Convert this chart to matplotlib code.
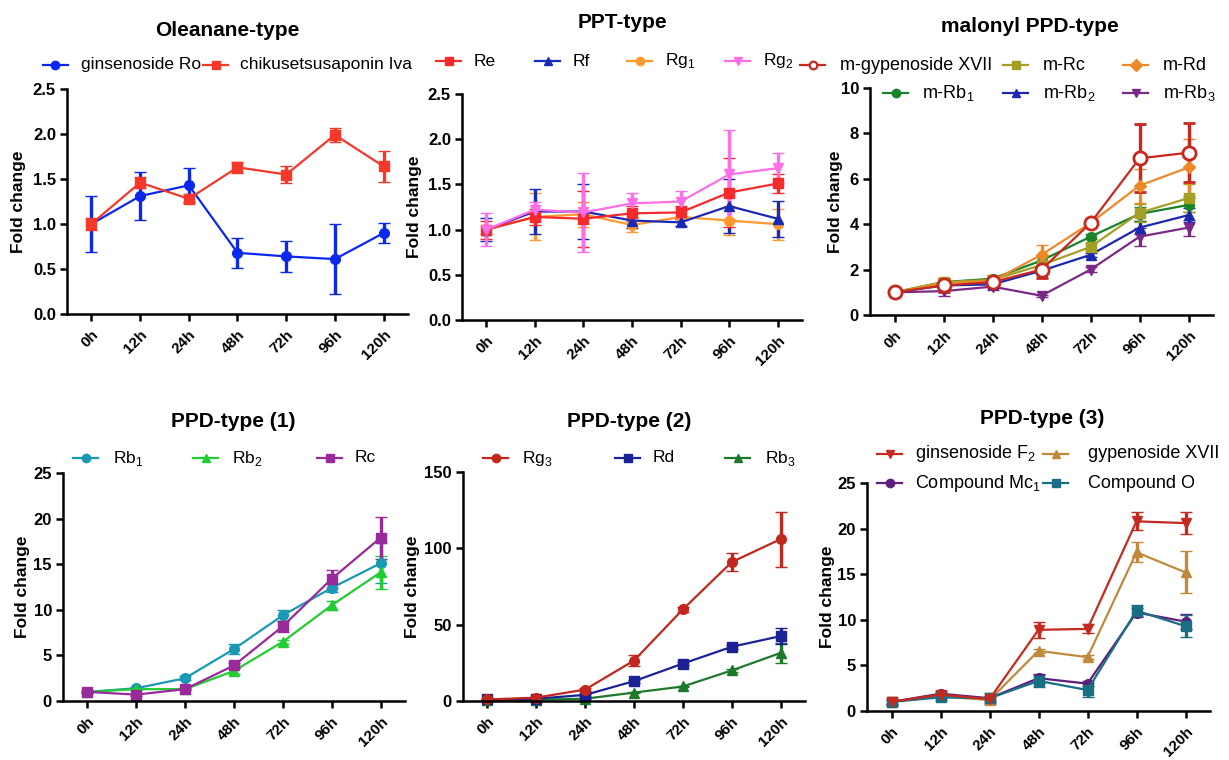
import matplotlib
matplotlib.use("Agg")
import matplotlib.pyplot as plt
from matplotlib.lines import Line2D

# -----------------------------------------------------
# DATA (fold change, mean and SD)
# -----------------------------------------------------
hours = ["0h", "12h", "24h", "48h", "72h", "96h", "120h"]

# Oleanane-type
ro = [1.0, 1.31, 1.43, 0.68, 0.64, 0.61, 0.90]
ro_sd = [0.31, 0.27, 0.19, 0.17, 0.17, 0.39, 0.11]
iva = [1.0, 1.46, 1.28, 1.63, 1.55, 1.99, 1.64]
iva_sd = [0.07, 0.06, 0.05, 0.06, 0.09, 0.08, 0.17]

# PPT-type
re = [1.0, 1.14, 1.12, 1.18, 1.19, 1.41, 1.51]
re_sd = [0.10, 0.09, 0.31, 0.08, 0.07, 0.38, 0.11]
rf = [1.0, 1.20, 1.20, 1.10, 1.08, 1.26, 1.12]
rf_sd = [0.13, 0.25, 0.30, 0.08, 0.04, 0.30, 0.20]
rg1 = [1.0, 1.14, 1.17, 1.05, 1.14, 1.10, 1.06]
rg1_sd = [0.05, 0.26, 0.14, 0.08, 0.10, 0.16, 0.17]
rg2 = [1.0, 1.22, 1.19, 1.29, 1.31, 1.61, 1.68]
rg2_sd = [0.18, 0.09, 0.44, 0.11, 0.12, 0.49, 0.17]

# malonyl PPD-type
m_gyp = [1.0, 1.3, 1.45, 2.0, 4.05, 6.9, 7.15]
m_gyp_sd = [0.05, 0.3, 0.2, 0.35, 0.1, 1.5, 1.3]
m_rc = [1.0, 1.45, 1.55, 2.2, 3.0, 4.5, 5.15]
m_rc_sd = [0.05, 0.2, 0.15, 0.2, 0.15, 0.4, 0.6]
m_rd = [1.0, 1.4, 1.5, 2.65, 4.05, 5.7, 6.5]
m_rd_sd = [0.05, 0.15, 0.15, 0.45, 0.1, 0.75, 1.25]
m_rb1 = [1.0, 1.45, 1.6, 2.4, 3.45, 4.45, 4.85]
m_rb1_sd = [0.05, 0.15, 0.15, 0.2, 0.1, 0.3, 0.3]
m_rb2 = [1.0, 1.3, 1.35, 1.95, 2.65, 3.85, 4.4]
m_rb2_sd = [0.05, 0.1, 0.1, 0.15, 0.1, 0.3, 0.3]
m_rb3 = [1.0, 1.05, 1.25, 0.85, 2.0, 3.45, 3.85]
m_rb3_sd = [0.05, 0.2, 0.15, 0.05, 0.1, 0.4, 0.35]

# PPD-type (1)
rb1 = [1.0, 1.4, 2.5, 5.7, 9.4, 12.4, 15.1]
rb1_sd = [0.1, 0.1, 0.2, 0.6, 0.6, 0.4, 2.2]
rb2 = [1.0, 1.3, 1.3, 3.3, 6.5, 10.5, 14.1]
rb2_sd = [0.1, 0.1, 0.1, 0.3, 0.2, 0.5, 1.8]
rc = [1.0, 0.7, 1.3, 3.9, 8.2, 13.4, 17.9]
rc_sd = [0.1, 0.1, 0.1, 0.3, 0.6, 1.0, 2.3]

# PPD-type (2)
rg3 = [1.0, 2.2, 7.5, 26.5, 60, 91, 106]
rg3_sd = [0.2, 0.5, 1.0, 3.5, 1.5, 6.0, 18.0]
rd = [1.0, 1.5, 4.0, 13, 24.5, 35.5, 42.5]
rd_sd = [0.2, 0.3, 0.5, 1.0, 1.0, 1.5, 5.0]
rb3 = [0.5, 0.8, 1.5, 5.5, 9.5, 20, 31.5]
rb3_sd = [0.1, 0.1, 0.3, 0.5, 0.5, 1.0, 6.5]

# PPD-type (3)
f2 = [1.0, 1.8, 1.3, 8.9, 9.0, 20.8, 20.6]
f2_sd = [0.3, 0.3, 0.3, 0.9, 0.5, 1.0, 1.2]
gyp = [1.0, 1.6, 1.2, 6.6, 5.9, 17.4, 15.2]
gyp_sd = [0.5, 0.2, 0.2, 0.2, 0.2, 1.1, 2.3]
mc1 = [1.0, 1.9, 1.4, 3.6, 3.0, 10.8, 9.8]
mc1_sd = [0.2, 0.3, 0.2, 0.5, 0.3, 0.5, 0.8]
cpd_o = [1.0, 1.5, 1.4, 3.3, 2.3, 11.0, 9.3]
cpd_o_sd = [0.2, 0.3, 0.6, 0.7, 0.8, 0.6, 1.2]

# -----------------------------------------------------
# STYLE
# -----------------------------------------------------
plt.rcParams["font.family"] = ["Liberation Sans", "DejaVu Sans"]
plt.rcParams["mathtext.fontset"] = "custom"
plt.rcParams["mathtext.rm"] = "Liberation Sans"

W, H = 1229, 760
fig = plt.figure(figsize=(W / 100, H / 100), dpi=100)
x = list(range(len(hours)))


def axe(left, right, top, bottom):
    # pixel box -> figure fraction
    return fig.add_axes([left / W, 1 - bottom / H, (right - left) / W, (bottom - top) / H])


def formater(ax, ymax, pas, fmt, label_x):
    ax.set_xlim(-0.5, 6.5)
    ax.set_ylim(0, ymax)
    n = int(round(ymax / pas)) + 1
    ax.set_yticks([i * pas for i in range(n)])
    ax.set_yticklabels([fmt.format(i * pas) for i in range(n)])
    ax.set_xticks(x)
    ax.set_xticklabels(hours, rotation=45, ha="right", rotation_mode="anchor")
    for s in ["top", "right"]:
        ax.spines[s].set_visible(False)
    for s in ["left", "bottom"]:
        ax.spines[s].set_linewidth(1.8)
    ax.tick_params(width=1.8, length=5)
    ax.tick_params(axis="y", labelsize=12, pad=3)
    ax.tick_params(axis="x", labelsize=11, pad=5)
    for t in ax.get_xticklabels() + ax.get_yticklabels():
        t.set_fontweight("bold")
    ax.set_ylabel("Fold change", fontsize=12.5, fontweight="bold")
    ax.yaxis.set_label_coords(label_x, 0.5)
    ax.patch.set_alpha(0)


def courbe(ax, y, sd, couleur, marqueur, ms=7, mfc=None, mew=1.0):
    ax.errorbar(x, y, yerr=sd, color=couleur, marker=marqueur, ms=ms,
                mfc=mfc if mfc else couleur, mec=couleur, mew=mew, lw=1.6,
                elinewidth=2.4, capsize=4.5, capthick=2.4, clip_on=False)


def legende(hx, hy, couleur, marqueur, texte, tx, taille=12.5, mfc=None):
    yy = 1 - hy / H
    fig.add_artist(Line2D([hx / W, (hx + 25) / W], [yy, yy], color=couleur, lw=1.6))
    fig.add_artist(Line2D([(hx + 12.5) / W], [yy], color=couleur, marker=marqueur,
                          ms=6 if mfc is None else 5.5, mfc=mfc if mfc else couleur,
                          mec=couleur, mew=1.6 if mfc else 1.0))
    fig.text(tx / W, yy, texte, fontsize=taille, va="center", ha="left")


def titre(cx, cy, texte):
    fig.text(cx / W, 1 - cy / H, texte, fontsize=15, fontweight="bold", ha="center", va="center")


# -----------------------------------------------------
# 1) Oleanane-type
# -----------------------------------------------------
ax1 = axe(67, 408, 89, 314)
courbe(ax1, ro, ro_sd, "#0a28f0", "o")
courbe(ax1, iva, iva_sd, "#f5382a", "s")
formater(ax1, 2.5, 0.5, "{:.1f}", -0.12)
titre(227, 30, "Oleanane-type")
legende(43, 65, "#0a28f0", "o", "ginsenoside Ro", 81)
legende(203, 65, "#f5382a", "s", "chikusetsusaponin Iva", 240)

# -----------------------------------------------------
# 2) PPT-type
# -----------------------------------------------------
ax2 = axe(462, 802, 94, 320)
courbe(ax2, rg1, rg1_sd, "#ff9a30", "o")
courbe(ax2, rf, rf_sd, "#1a2ab8", "^")
courbe(ax2, re, re_sd, "#f52a2a", "s")
courbe(ax2, rg2, rg2_sd, "#ff6ee6", "v")
formater(ax2, 2.5, 0.5, "{:.1f}", -0.118)
titre(622, 22, "PPT-type")
legende(436, 61, "#f52a2a", "s", "Re", 474)
legende(535, 61, "#1a2ab8", "^", "Rf", 573)
legende(627, 61, "#ff9a30", "o", r"Rg$_\mathregular{1}$", 665)
legende(725, 61, "#ff6ee6", "v", r"Rg$_\mathregular{2}$", 763)

# -----------------------------------------------------
# 3) malonyl PPD-type
# -----------------------------------------------------
ax3 = axe(870, 1213, 88, 315)
courbe(ax3, m_rb3, m_rb3_sd, "#7a2a86", "v")
courbe(ax3, m_rb2, m_rb2_sd, "#1a28b0", "^")
courbe(ax3, m_rb1, m_rb1_sd, "#1a8228", "o")
courbe(ax3, m_rc, m_rc_sd, "#a3a025", "s")
courbe(ax3, m_rd, m_rd_sd, "#ec8a2a", "D", ms=6)
courbe(ax3, m_gyp, m_gyp_sd, "#c8281e", "o", ms=9.5, mfc="white", mew=2.0)
formater(ax3, 10, 2, "{:d}", -0.08)
titre(1030, 26, "malonyl PPD-type")
legende(800, 65, "#c8281e", "o", "m-gypenoside XVII", 840, 13, mfc="white")
legende(1003, 65, "#a3a025", "s", "m-Rc", 1043, 13)
legende(1123, 65, "#ec8a2a", "D", "m-Rd", 1163, 13)
legende(883, 93, "#1a8228", "o", r"m-Rb$_\mathregular{1}$", 922, 13)
legende(1003, 93, "#1a28b0", "^", r"m-Rb$_\mathregular{2}$", 1043, 13)
legende(1123, 93, "#7a2a86", "v", r"m-Rb$_\mathregular{3}$", 1163, 13)

# -----------------------------------------------------
# 4) PPD-type (1)
# -----------------------------------------------------
ax4 = axe(63, 405, 473, 701)
courbe(ax4, rb1, rb1_sd, "#1a98b4", "o")
courbe(ax4, rb2, rb2_sd, "#22cc33", "^")
courbe(ax4, rc, rc_sd, "#992a9a", "s")
formater(ax4, 25, 5, "{:d}", -0.096)
titre(233, 422, "PPD-type (1)")
legende(73, 458, "#1a98b4", "o", r"Rb$_\mathregular{1}$", 113)
legende(193, 458, "#22cc33", "^", r"Rb$_\mathregular{2}$", 232)
legende(317, 458, "#992a9a", "s", "Rc", 355)

# -----------------------------------------------------
# 5) PPD-type (2)
# -----------------------------------------------------
ax5 = axe(463, 805, 472, 701)
courbe(ax5, rb3, rb3_sd, "#1a7a2a", "^")
courbe(ax5, rd, rd_sd, "#1a2296", "s")
courbe(ax5, rg3, rg3_sd, "#c3261c", "o")
formater(ax5, 150, 50, "{:d}", -0.125)
titre(629, 422, "PPD-type (2)")
legende(483, 458, "#c3261c", "o", r"Rg$_\mathregular{3}$", 522)
legende(615, 458, "#1a2296", "s", "Rd", 653)
legende(725, 458, "#1a7a2a", "^", r"Rb$_\mathregular{3}$", 765)

# -----------------------------------------------------
# 6) PPD-type (3)
# -----------------------------------------------------
ax6 = axe(867, 1210, 483, 711)
courbe(ax6, gyp, gyp_sd, "#c08a3c", "^")
courbe(ax6, mc1, mc1_sd, "#5e1e7e", "o")
courbe(ax6, cpd_o, cpd_o_sd, "#1a6e84", "s")
courbe(ax6, f2, f2_sd, "#c42a1e", "v")
formater(ax6, 25, 5, "{:d}", -0.093)
titre(1042, 418, "PPD-type (3)")
legende(877, 454, "#c42a1e", "v", r"ginsenoside F$_\mathregular{2}$", 915, 13)
legende(1043, 454, "#c08a3c", "^", "gypenoside XVII", 1088, 13)
legende(877, 483, "#5e1e7e", "o", r"Compound Mc$_\mathregular{1}$", 915, 13)
legende(1043, 483, "#1a6e84", "s", "Compound O", 1088, 13)

fig.savefig("out.png", dpi=100)
